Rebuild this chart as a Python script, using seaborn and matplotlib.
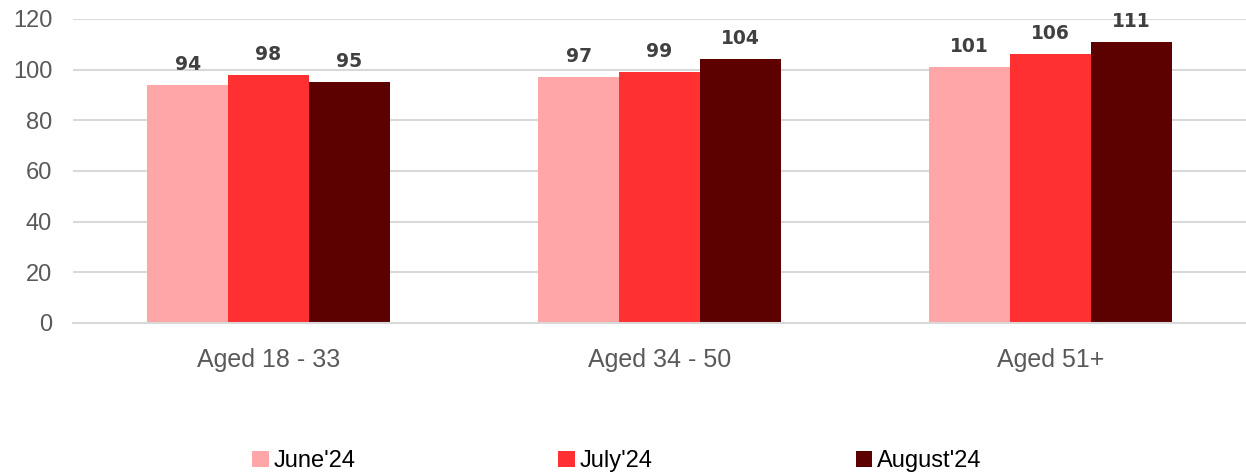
import pandas as pd
import matplotlib.pyplot as plt
import seaborn as sns
from matplotlib.patches import Patch

# -------------------------
# Data
# -------------------------
age_groups = ["Aged 18 - 33", "Aged 34 - 50", "Aged 51+"]
months = ["June'24", "July'24", "August'24"]
june_vals = [94, 97, 101]
july_vals = [98, 99, 106]
august_vals = [95, 104, 111]
colors = ["#FFA6A8", "#FF3032", "#5C0000"]

df = pd.DataFrame({
    "group": age_groups * 3,
    "month": [m for m in months for _ in age_groups],
    "value": june_vals + july_vals + august_vals,
})

# -------------------------
# Plot
# -------------------------
sns.set_style("white")
plt.rcParams["font.family"] = ["Liberation Sans", "DejaVu Sans"]

fig = plt.figure(figsize=(12.46, 4.74), dpi=100)
ax = fig.add_axes([0.0586, 0.3186, 0.9414, 0.6414])

sns.barplot(data=df, x="group", y="value", hue="month", hue_order=months,
            palette=colors, width=0.62, gap=0, saturation=1, ax=ax,
            legend=False, edgecolor="none")

for cont in ax.containers:
    ax.bar_label(cont, padding=8, fontsize=13.5, fontweight="bold",
                 color="#404040", family="DejaVu Sans")

ax.set_ylim(0, 120)
ax.set_xlim(-0.5, 2.5)
ax.set_yticks(range(0, 121, 20))
ax.yaxis.grid(True, color="#D9D9D9", linewidth=1.5)
ax.set_axisbelow(True)
ax.set_xlabel("")
ax.set_ylabel("")
for s in ["top", "right", "left"]:
    ax.spines[s].set_visible(False)
ax.spines["bottom"].set_color("#D9D9D9")
ax.spines["bottom"].set_linewidth(1.5)
ax.tick_params(axis="y", length=0, labelsize=17, labelcolor="#595959", pad=15)
ax.tick_params(axis="x", length=0, labelsize=18, labelcolor="#595959", pad=18)

handles = [Patch(facecolor=c, edgecolor="none") for c in colors]
fig.legend(handles, months, loc="center", bbox_to_anchor=(0.495, 0.027),
           ncol=3, frameon=False, fontsize=17, handlelength=0.7,
           handleheight=0.7, handletextpad=0.2, columnspacing=8.6,
           labelcolor="#000000")

fig.savefig("out.png", dpi=100)
